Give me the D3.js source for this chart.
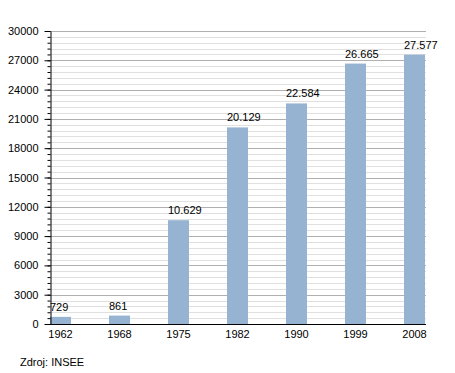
<!DOCTYPE html>
<html>
<head>
<meta charset="utf-8">
<script src="https://cdn.jsdelivr.net/npm/d3@7"></script>
<style>
  body { margin: 0; background: #fff; }
  svg { display: block; font-family: "Liberation Sans", Arial, sans-serif; }
</style>
</head>
<body>
<svg id="chart" width="455" height="373"></svg>
<script>
// data
var years = ["1962", "1968", "1975", "1982", "1990", "1999", "2008"];
var population = [729, 861, 10629, 20129, 22584, 26665, 27577];
var valueLabels = ["729", "861", "10.629", "20.129", "22.584", "26.665", "27.577"];
var yTicks = [0, 3000, 6000, 9000, 12000, 15000, 18000, 21000, 24000, 27000, 30000];
var source = "Zdroj: INSEE";

var plotLeft = 50, plotRight = 426, plotTop = 31, plotBottom = 324;

var svg = d3.select("#chart");

var x = d3.scaleBand()
    .domain(years)
    .range([plotLeft, plotRight - 1])
    .paddingInner(0.644)
    .paddingOuter(0);

var y = d3.scaleLinear()
    .domain([0, 30000])
    .range([plotBottom, plotTop]);

var minor = d3.range(0, 30001, 600);

// grid lines
svg.append("g")
    .selectAll("line")
    .data(minor)
    .enter()
    .append("line")
    .attr("x1", plotLeft)
    .attr("x2", plotRight)
    .attr("y1", function(d) { return Math.round(y(d)) + 0.5; })
    .attr("y2", function(d) { return Math.round(y(d)) + 0.5; })
    .attr("stroke", function(d) { return d % 3000 === 0 ? "#b0b0b0" : "#e0e0e0"; })
    .attr("stroke-width", 1);

// bars
svg.append("g")
    .selectAll("rect")
    .data(population)
    .enter()
    .append("rect")
    .attr("x", function(d, i) { return x(years[i]); })
    .attr("y", function(d) { return y(d); })
    .attr("width", x.bandwidth())
    .attr("height", function(d) { return plotBottom - y(d); })
    .attr("fill", "#97b3d2");

// value labels
svg.append("g")
    .selectAll("text")
    .data(population)
    .enter()
    .append("text")
    .attr("x", function(d, i) { return x(years[i]); })
    .attr("y", function(d) { return y(d) - 6; })
    .text(function(d, i) { return valueLabels[i]; })
    .style("font-size", "11px")
    .style("fill", "#000");

// y axis (minor ticks)
svg.append("g")
    .attr("transform", "translate(" + (plotLeft + 0.5) + ",0)")
    .call(d3.axisLeft(y).tickValues(minor).tickSize(3).tickFormat(""))
    .call(function(g) { g.select(".domain").remove(); });

// y axis (major)
var yAxis = svg.append("g")
    .attr("transform", "translate(" + (plotLeft + 0.5) + ",0)")
    .call(d3.axisLeft(y).tickValues(yTicks).tickSize(6).tickPadding(6).tickSizeOuter(0).tickFormat(d3.format("d")));
yAxis.selectAll("text")
    .style("font-size", "11px")
    .style("font-family", "Liberation Sans, Arial, sans-serif")
    .attr("fill", "#000");

// x axis
var xAxis = svg.append("g")
    .attr("transform", "translate(0," + (plotBottom + 0.5) + ")")
    .call(d3.axisBottom(x).tickSize(0).tickPadding(6));
xAxis.select(".domain")
    .attr("d", "M" + plotLeft + ",0H" + plotRight);
xAxis.selectAll("text")
    .style("font-size", "11px")
    .style("font-family", "Liberation Sans, Arial, sans-serif")
    .attr("fill", "#000");

svg.append("text")
    .attr("x", 20)
    .attr("y", 366)
    .text(source)
    .style("font-size", "11px");
</script>
</body>
</html>
